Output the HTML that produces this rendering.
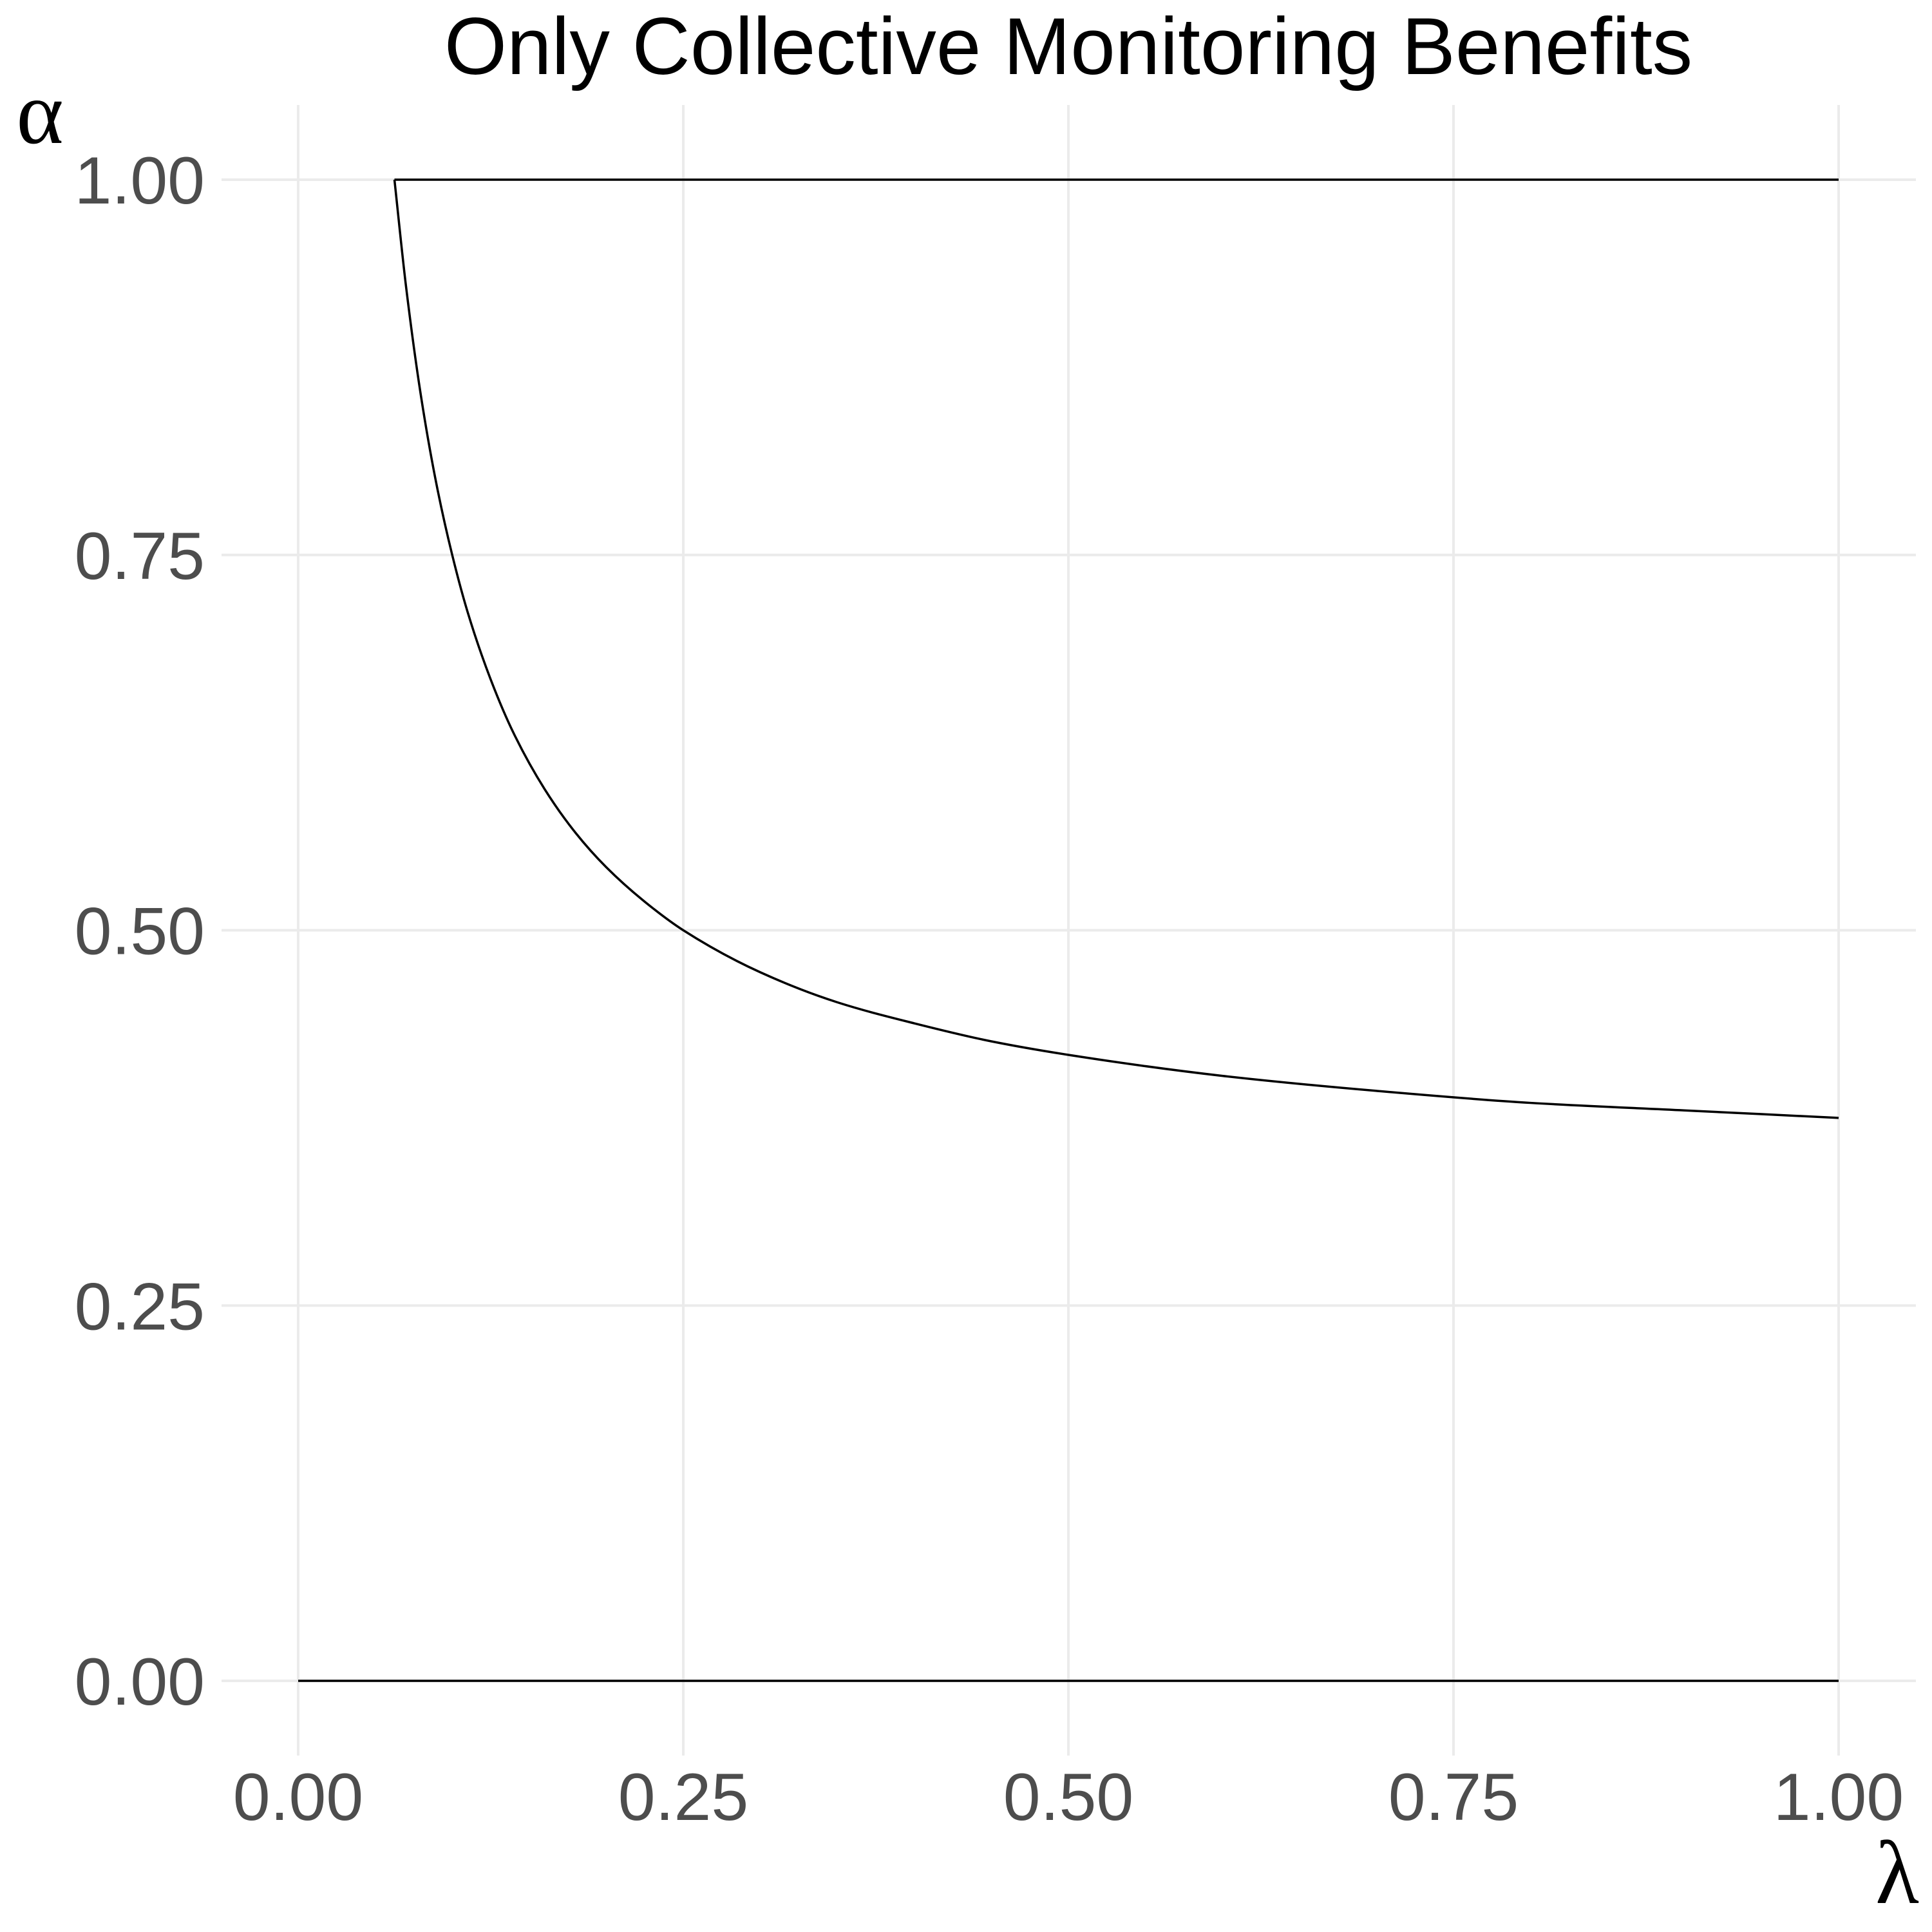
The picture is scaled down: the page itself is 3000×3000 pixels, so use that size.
<!DOCTYPE html>
<html><head><meta charset="utf-8"><style>
html,body{margin:0;padding:0;background:#fff}
svg{display:block}
</style></head><body>
<svg id="chart" width="3000" height="3000" viewBox="0 0 3000 3000" xmlns="http://www.w3.org/2000/svg">
<rect width="3000" height="3000" fill="#fff"/>
<g id="grid"></g>
<g id="marks"></g>
<g id="axes"></g>
<text x="1659" y="115" text-anchor="middle" font-family="Liberation Sans, sans-serif" font-size="125" fill="#000">Only Collective Monitoring Benefits</text>
<text x="62" y="222" text-anchor="middle" font-family="Liberation Serif, serif" font-size="140" fill="#000">α</text>
<text x="2946" y="2955" text-anchor="middle" font-family="Liberation Serif, serif" font-size="140" fill="#000">λ</text>
</svg>
<script>
const xTicks = [0, 0.25, 0.5, 0.75, 1];
const yTicks = [0, 0.25, 0.5, 0.75, 1];
const tickLabels = ["0.00", "0.25", "0.50", "0.75", "1.00"];
const curveLambda = [0.0625, 0.07, 0.08, 0.09, 0.1, 0.11, 0.125, 0.14, 0.16, 0.18, 0.2, 0.225, 0.25, 0.3, 0.35, 0.4, 0.45, 0.5, 0.6, 0.7, 0.8, 0.9, 1.0];
const curveAlpha  = [1.0, 0.929, 0.854, 0.796, 0.750, 0.712, 0.667, 0.631, 0.594, 0.565, 0.542, 0.519, 0.5, 0.472, 0.452, 0.438, 0.426, 0.417, 0.403, 0.393, 0.385, 0.380, 0.375];
const topLine = {lambda: [0.0625, 1.0], alpha: [1, 1]};
const bottomLine = {lambda: [0, 1.0], alpha: [0, 0]};

const NS = "http://www.w3.org/2000/svg";
const X0 = 463, X1 = 2855, Y0 = 2610, Y1 = 279;
const PL = 344, PR = 2975, PT = 163, PB = 2726;
function sx(v){ return X0 + v * (X1 - X0); }
function sy(v){ return Y0 - v * (Y0 - Y1); }
function mk(tag, attrs, parent){
  const e = document.createElementNS(NS, tag);
  for (const k in attrs) e.setAttribute(k, attrs[k]);
  parent.appendChild(e);
  return e;
}
const grid = document.getElementById('grid');
const axes = document.getElementById('axes');
const marks = document.getElementById('marks');
xTicks.forEach((t, i) => {
  const l = mk('line', {x1: sx(t), x2: sx(t), y1: PT, y2: PB, stroke: '#ebebeb', 'stroke-width': 4}, grid);
  
  
  const tx = mk('text', {x: sx(t), y: 2826, 'text-anchor': 'middle', 'font-family': 'Liberation Sans, sans-serif', 'font-size': 104, fill: '#4d4d4d'}, axes);
  tx.textContent = tickLabels[i];
  
  
});
yTicks.forEach((t, i) => {
  const l = mk('line', {x1: PL, x2: PR, y1: sy(t), y2: sy(t), stroke: '#ebebeb', 'stroke-width': 4}, grid);
  
  
  const tx = mk('text', {x: 318, y: sy(t) + 37, 'text-anchor': 'end', 'font-family': 'Liberation Sans, sans-serif', 'font-size': 104, fill: '#4d4d4d'}, axes);
  tx.textContent = tickLabels[i];
  
  
});
function line(ls, as, name){
  const xs = ls.map(sx), ys = as.map(sy), n = xs.length;
  let d = 'M' + xs[0] + ',' + ys[0];
  if (n > 2) {
    const dx = [], m = [], t = [];
    for (let i = 0; i < n - 1; i++) { dx.push(xs[i+1]-xs[i]); m.push((ys[i+1]-ys[i])/(xs[i+1]-xs[i])); }
    t[0] = m[0]; t[n-1] = m[n-2];
    for (let i = 1; i < n - 1; i++) {
      if (m[i-1]*m[i] <= 0) t[i] = 0;
      else { const w1 = 2*dx[i]+dx[i-1], w2 = dx[i]+2*dx[i-1]; t[i] = (w1+w2)/(w1/m[i-1]+w2/m[i]); }
    }
    for (let i = 0; i < n - 1; i++) {
      const h = dx[i] / 3;
      d += ' C' + (xs[i]+h) + ',' + (ys[i]+t[i]*h) + ' ' + (xs[i+1]-h) + ',' + (ys[i+1]-t[i+1]*h) + ' ' + xs[i+1] + ',' + ys[i+1];
    }
  } else {
    d += ' L' + xs[1] + ',' + ys[1];
  }
  const p = mk('path', {d: d, fill: 'none', stroke: '#000', 'stroke-width': 3.5}, marks);
  
  
}
line(topLine.lambda, topLine.alpha, 'upper-boundary-line');
line(bottomLine.lambda, bottomLine.alpha, 'lower-boundary-line');
line(curveLambda, curveAlpha, 'threshold-curve');
</script>
</body></html>
